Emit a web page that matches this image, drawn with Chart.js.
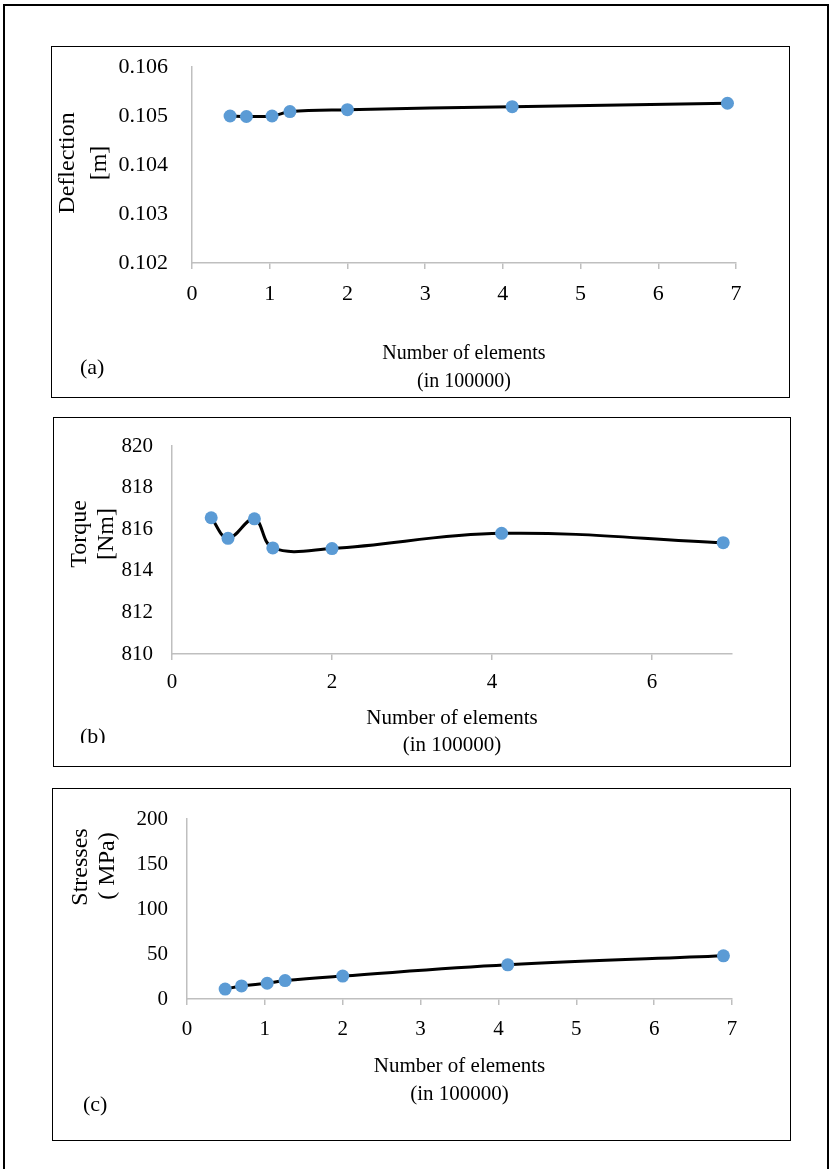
<!DOCTYPE html>
<html>
<head>
<meta charset="utf-8">
<script src="https://cdn.jsdelivr.net/npm/chart.js@4.4.1/dist/chart.umd.min.js"></script>
<style>
  html, body { margin: 0; background: #fff; overflow: hidden; }
  .outer { position: absolute; left: 3px; top: 4px; width: 822px; height: 1163px; border: 2px solid #000; border-bottom: none; }
  .panel { position: absolute; border: 1px solid #000; background: #fff; }
  .panel canvas { display: block; }
</style>
</head>
<body>
<div class="outer"></div>
<div class="panel" style="left:51px;top:46px;width:737px;height:350px"><canvas id="chartA" width="737" height="350"></canvas></div>
<div class="panel" style="left:53px;top:417px;width:736px;height:348px"><canvas id="chartB" width="736" height="348"></canvas></div>
<div class="panel" style="left:52px;top:788px;width:737px;height:351px"><canvas id="chartC" width="737" height="351"></canvas></div>

<script>
// number of elements (in 100000), shared by all three panels
const nElements = [0.49, 0.70, 1.03, 1.26, 2.00, 4.12, 6.89];

// (a) deflection [m]
const deflection = [0.10500, 0.10499, 0.10500, 0.10509, 0.10513, 0.10519, 0.10526];
// (b) torque [Nm]
const torque = [816.55, 815.56, 816.50, 815.10, 815.07, 815.80, 815.35];
// (c) stresses (MPa)
const stresses = [11, 14.5, 17.5, 20.5, 25.5, 38, 48];

// tick labels
const xTicksA = [0, 1, 2, 3, 4, 5, 6, 7];
const xTicksB = [0, 2, 4, 6];
const xTicksC = [0, 1, 2, 3, 4, 5, 6, 7];
const yTicksA = [0.102, 0.103, 0.104, 0.105, 0.106];
const yTicksB = [810, 812, 814, 816, 818, 820];
const yTicksC = [0, 50, 100, 150, 200];

const FONT = "'Liberation Serif', 'Times New Roman', serif";

// draws the rotated y titles and the (a)/(b)/(c) tags
const panelText = {
  id: "panelText",
  afterDraw(chart, args, opts) {
    const ctx = chart.ctx;
    (opts.items || []).forEach((it) => {
      ctx.save();
      if (it.clipBottom) {
        ctx.beginPath();
        ctx.rect(0, 0, chart.width, it.clipBottom);
        ctx.clip();
      }
      ctx.font = it.size + "px " + FONT;
      ctx.fillStyle = "#000";
      ctx.textBaseline = "middle";
      ctx.textAlign = it.align || "center";
      ctx.translate(it.x, it.y);
      if (it.rotate) ctx.rotate(-Math.PI / 2);
      ctx.fillText(it.text, 0, 0);
      ctx.restore();
    });
  },
};

function buildChart(id, values, xTicks, xMax, yTicks, s) {
  return new Chart(document.getElementById(id), {
    type: "line",
    data: {
      datasets: [
        {
          data: nElements.map((x, i) => ({ x: x, y: values[i] })),
          borderColor: "#000",
          borderWidth: 3,
          tension: 0.38,
          pointRadius: 6.5,
          pointHoverRadius: 6.5,
          pointBorderWidth: 0,
          pointBackgroundColor: "#5b9bd5",
        },
      ],
    },
    options: {
      responsive: false,
      animation: false,
      events: [],
      layout: { padding: { left: 0, top: s.padTop, right: s.padRight, bottom: 0 } },
      plugins: {
        legend: { display: false },
        tooltip: { enabled: false },
        panelText: { items: s.texts },
      },
      scales: {
        x: {
          type: "linear",
          min: 0,
          max: xMax,
          afterBuildTicks: (axis) => { axis.ticks = xTicks.map((v) => ({ value: v })); },
          afterFit: (axis) => { axis.height = s.xHeight; },
          ticks: {
            padding: s.xTickPad,
            color: "#000",
            maxRotation: 0,
            font: { family: FONT, size: s.tickSize },
          },
          grid: { drawOnChartArea: false, drawTicks: true, tickLength: 6, color: "#bfbfbf", lineWidth: 1.5 },
          border: { color: "#bfbfbf", width: 1.5 },
          title: {
            display: true,
            text: ["Number of elements", "(in 100000)"],
            color: "#000",
            font: { family: FONT, size: s.xTitleSize, lineHeight: s.xTitleLh },
            padding: { top: 0, bottom: s.xTitlePadB },
          },
        },
        y: {
          type: "linear",
          min: yTicks[0],
          max: yTicks[yTicks.length - 1],
          afterBuildTicks: (axis) => { axis.ticks = yTicks.map((v) => ({ value: v })); },
          afterFit: (axis) => {
            axis.width = s.yWidth;
            // keep the label padding from pushing the plot top down
            axis.paddingTop = 12;
            axis.paddingBottom = 12;
          },
          ticks: {
            padding: s.yTickPad,
            color: "#000",
            font: { family: FONT, size: s.tickSize },
            callback: (v) => v.toFixed(s.yDecimals),
          },
          grid: { display: false, drawTicks: false },
          border: { color: "#bfbfbf", width: 1.5 },
        },
      },
    },
    plugins: [panelText],
  });
}

buildChart("chartA", deflection, xTicksA, 7, yTicksA, {
  padTop: 20, padRight: 53, xHeight: 134, yWidth: 140,
  tickSize: 22, xTickPad: 12, yTickPad: 24, yDecimals: 3,
  xTitleSize: 20, xTitleLh: 1.4, xTitlePadB: 1,
  texts: [
    { text: "Deflection", x: 16, y: 116, size: 24, rotate: true },
    { text: "[m]", x: 48, y: 116, size: 24, rotate: true },
    { text: "(a)", x: 28, y: 321, size: 22, align: "left" },
  ],
});

buildChart("chartB", torque, xTicksB, 7, yTicksB, {
  padTop: 28, padRight: 58, xHeight: 112, yWidth: 118,
  tickSize: 21, xTickPad: 10, yTickPad: 19, yDecimals: 0,
  xTitleSize: 21, xTitleLh: 27 / 21, xTitlePadB: 7.5,
  texts: [
    { text: "Torque", x: 26, y: 116, size: 24, rotate: true },
    { text: "[Nm]", x: 53, y: 116, size: 24, rotate: true },
    { text: "(b)", x: 26, y: 319, size: 22, align: "left", clipBottom: 325 },
  ],
});

buildChart("chartC", stresses, xTicksC, 7, yTicksC, {
  padTop: 30, padRight: 58, xHeight: 141, yWidth: 134,
  tickSize: 21, xTickPad: 12, yTickPad: 19, yDecimals: 0,
  xTitleSize: 21, xTitleLh: 28 / 21, xTitlePadB: 32,
  texts: [
    { text: "Stresses", x: 28, y: 78, size: 24, rotate: true },
    { text: "( MPa)", x: 55, y: 77, size: 24, rotate: true },
    { text: "(c)", x: 30, y: 316, size: 22, align: "left" },
  ],
});
</script>
</body>
</html>
